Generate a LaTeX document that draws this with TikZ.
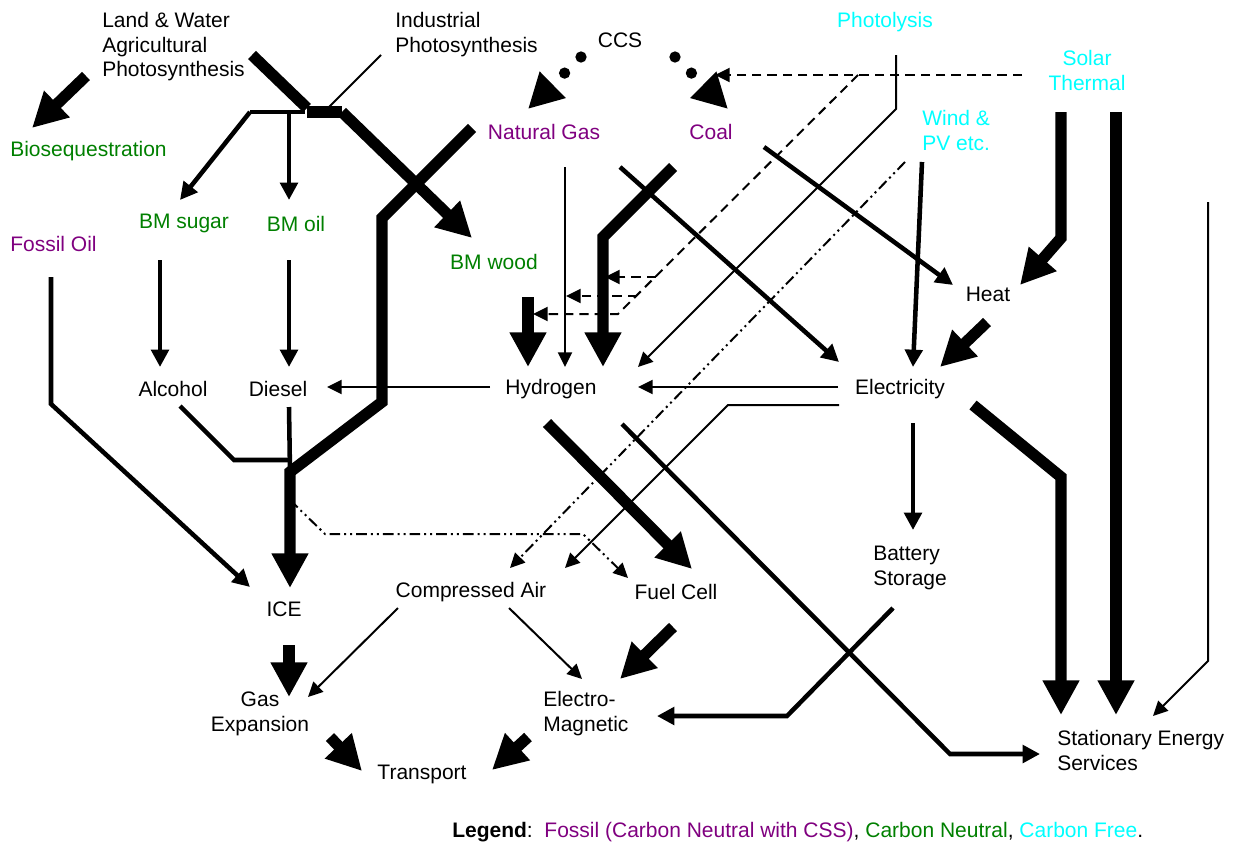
\documentclass[tikz,border=0pt]{standalone}
\usepackage{fontspec}
\setmainfont{Liberation Sans}
\usetikzlibrary{arrows.meta}

\definecolor{fossilc}{RGB}{128,0,128}
\definecolor{neutralc}{RGB}{0,128,0}
\definecolor{freec}{RGB}{0,255,255}

\begin{document}
\begin{tikzpicture}[
  x=0.75pt, y=-0.75pt,
  font=\fontsize{15.75pt}{18.5pt}\selectfont,
  box/.style={inner sep=0pt, align=center, yshift=-1.3pt},
  leftbox/.style={inner sep=0pt, align=left, anchor=west, yshift=-1.3pt},
  fossiltext/.style={text=fossilc},
  neutraltext/.style={text=neutralc},
  freetext/.style={text=freec},
  thinline/.style={line width=1.5pt},
  medline/.style={line width=3.4pt},
  heavyline/.style={line width=8.5pt},
  thinflow/.style={thinline, -{Triangle[length=11pt,width=10.5pt]}},
  medflow/.style={medline, -{Triangle[length=13pt,width=13pt]}},
  heavyflow/.style={heavyline, -{Triangle[length=26pt,width=26pt]}},
  dashedflow/.style={thinflow, dash pattern=on 7pt off 4.5pt},
  dotdashflow/.style={thinflow, dash pattern=on 8pt off 3pt on 1.5pt off 3pt on 1.5pt off 3pt},
  ccsflow/.style={line width=8.5pt, line cap=round, dash pattern=on 0pt off 17.25pt,
    -{Triangle[length=26pt,width=26pt]}}
]
\fill[white] (0,0) rectangle (1237,843);
\useasboundingbox (0,0) rectangle (1237,843);

\node[leftbox] (landwater) at (102,45) {Land \& Water\\Agricultural\\Photosynthesis};
\node[leftbox] (industrial) at (395,33) {Industrial\\Photosynthesis};
\node[box] (ccs) at (620,39) {CCS};
\node[box, freetext] (photolysis) at (885,20) {Photolysis};
\node[box, freetext] (solar) at (1087,69) {Solar\\Thermal};
\node[leftbox, freetext] (wind) at (922,129) {Wind \&\\PV etc.};
\node[leftbox, neutraltext] (bioseq) at (10,149) {Biosequestration};
\node[box, fossiltext] (natgas) at (544,130) {Natural Gas};
\node[box, fossiltext] (coal) at (711,130) {Coal};
\node[box, neutraltext] (bmsugar) at (184,222) {BM sugar};
\node[box, neutraltext] (bmoil) at (296,222) {BM oil};
\node[leftbox, fossiltext] (fossiloil) at (10,242) {Fossil Oil};
\node[box, neutraltext] (bmwood) at (494,260) {BM wood};
\node[box] (heat) at (988,293) {Heat};
\node[box] (alcohol) at (173,387) {Alcohol};
\node[box] (diesel) at (278,387) {Diesel};
\node[box] (hydrogen) at (551,387) {Hydrogen};
\node[box] (electricity) at (900,387) {Electricity};
\node[leftbox] (battery) at (873,566) {Battery\\Storage};
\node[box] (ice) at (284,608) {ICE};
\node[box] (compair) at (471,590) {Compressed Air};
\node[box] (fuelcell) at (676,590) {Fuel Cell};
\node[box] (gasexp) at (260,712) {Gas\\Expansion};
\node[leftbox] (electromag) at (543,712) {Electro-\\Magnetic};
\node[box] (transport) at (422,773) {Transport};
\node[leftbox] (stationary) at (1057,749) {Stationary Energy\\Services};
\node[leftbox] (legend) at (452,830)
  {\textbf{Legend}:\ \ {\color{fossilc}Fossil (Carbon Neutral with CSS)}, {\color{neutralc}Carbon Neutral}, {\color{freec}Carbon Free}.};

\coordinate (lw-a) at (252,55);
\coordinate (lw-b) at (307,108);
\coordinate (ip-a) at (381,55);
\coordinate (ip-b) at (328,108);
\coordinate (fork-w) at (250,112);
\coordinate (fork-m) at (289,112);
\coordinate (fork-e) at (305,112);
\coordinate (bar-w) at (307,112);
\coordinate (bar-e) at (342,112);
\coordinate (sugar-in) at (180,200);
\coordinate (oil-in) at (289,200);
\coordinate (wood-in) at (472,238);
\coordinate (bio-a) at (86,76);
\coordinate (bio-in) at (32,128);

\coordinate (wood-a) at (472,128);
\coordinate (wood-b) at (382,218);
\coordinate (wood-c) at (382,402);
\coordinate (ice-join) at (290,472);
\coordinate (ice-in) at (290,588);
\coordinate (diesel-out) at (289,407);
\coordinate (alcohol-out) at (180,406);
\coordinate (alcohol-bend) at (234,460);
\coordinate (alcohol-join) at (289,460);
\coordinate (oil-a) at (51,277);
\coordinate (oil-b) at (51,404);
\coordinate (ice-in-w) at (250,587);
\coordinate (sugar-out) at (160,260);
\coordinate (alcohol-in) at (160,367);
\coordinate (oil-out) at (289,260);
\coordinate (diesel-in) at (289,367);

\coordinate (h2-w) at (490,387);
\coordinate (diesel-e) at (327,387);
\coordinate (elec-w) at (838,387);
\coordinate (h2-e) at (638,387);
\coordinate (ng-out) at (565,167);
\coordinate (h2-n) at (565,367);
\coordinate (coal-h2-a) at (673,167);
\coordinate (coal-h2-b) at (603,237);
\coordinate (h2-ne) at (603,367);
\coordinate (wood-out) at (528,297);
\coordinate (h2-nw) at (528,367);
\coordinate (ng-elec-a) at (620,167);
\coordinate (elec-nw) at (839,362);
\coordinate (coal-heat-a) at (764,147);
\coordinate (heat-in) at (953,285);
\coordinate (pl-a) at (896,55);
\coordinate (pl-b) at (896,109);
\coordinate (h2-in-ne) at (638,367);

\coordinate (st-dash) at (1022,75);
\coordinate (coal-dash) at (715,75);
\coordinate (dash-top) at (858,75);
\coordinate (dash-b1) at (656,277);
\coordinate (dash-b2) at (637,296);
\coordinate (dash-b3) at (618,314);
\coordinate (dash-t1) at (605,277);
\coordinate (dash-t2) at (566,296);
\coordinate (dash-t3) at (533,314);

\coordinate (wind-dd) at (905,162);
\coordinate (ca-in-dd) at (510,568);
\coordinate (ice-dd) at (290,500);
\coordinate (dd-bend-w) at (325,534);
\coordinate (dd-bend-e) at (583,534);
\coordinate (fc-in-dd) at (628,578);

\coordinate (elec-sw) at (839,405);
\coordinate (ca-bend) at (728,405);
\coordinate (ca-in-ne) at (565,568);
\coordinate (elec-s) at (913,423);
\coordinate (battery-in) at (913,530);
\coordinate (heat-out) at (987,322);
\coordinate (elec-in-ne) at (940,367);
\coordinate (wind-out) at (922,162);
\coordinate (elec-n) at (913,367);
\coordinate (elec-se) at (973,405);
\coordinate (ses-bend) at (1061,477);
\coordinate (ses-in-l) at (1061,715);

\coordinate (h2-sw) at (547,423);
\coordinate (fc-in) at (692,569);
\coordinate (h2-se) at (622,424);
\coordinate (ses-bend-b) at (950,754);
\coordinate (ses-in-w) at (1040,754);
\coordinate (bat-out) at (893,608);
\coordinate (bat-bend) at (787,716);
\coordinate (em-in-e) at (657,716);

\coordinate (st-a) at (1061,112);
\coordinate (st-bend) at (1061,238);
\coordinate (heat-in-e) at (1020,285);
\coordinate (st-b) at (1116,112);
\coordinate (ses-in-m) at (1116,715);
\coordinate (rt-a) at (1208,202);
\coordinate (rt-b) at (1208,661);
\coordinate (ses-in-e) at (1153,716);

\coordinate (ice-out) at (289,645);
\coordinate (gas-in) at (289,697);
\coordinate (ca-sw) at (398,608);
\coordinate (gas-in-e) at (308,697);
\coordinate (ca-se) at (509,608);
\coordinate (em-in-w) at (582,679);
\coordinate (fc-out) at (673,627);
\coordinate (em-in-n) at (620,679);
\coordinate (gas-out) at (330,737);
\coordinate (tr-in-w) at (362,771);
\coordinate (em-out) at (528,737);
\coordinate (tr-in-e) at (492,770);

\coordinate (ccs-w) at (581,57);
\coordinate (ng-in) at (528,109);
\coordinate (ccs-e) at (675,57);
\coordinate (coal-in) at (728,109);

\draw[heavyflow] (bio-a) -- (bio-in);
\draw[heavyline] (lw-a) -- (lw-b);
\draw[thinline] (ip-a) -- (ip-b);
\draw[medline] (fork-w) -- (fork-e);
\draw[heavyline] (bar-w) -- (bar-e);
\draw[medflow] (fork-w) -- (sugar-in);
\draw[medflow] (fork-m) -- (oil-in);
\draw[heavyflow] (bar-e) -- (wood-in);

\draw[heavyflow] (wood-a) -- (wood-b) -- (wood-c) -- (ice-join) -- (ice-in);
\draw[medline] (diesel-out) -- (ice-join);
\draw[medline] (alcohol-out) -- (alcohol-bend) -- (alcohol-join);
\draw[medflow] (oil-a) -- (oil-b) -- (ice-in-w);
\draw[medflow] (sugar-out) -- (alcohol-in);
\draw[medflow] (oil-out) -- (diesel-in);

\draw[thinflow] (h2-w) -- (diesel-e);
\draw[thinflow] (elec-w) -- (h2-e);
\draw[thinflow] (ng-out) -- (h2-n);
\draw[heavyflow] (coal-h2-a) -- (coal-h2-b) -- (h2-ne);
\draw[heavyflow] (wood-out) -- (h2-nw);
\draw[medflow] (ng-elec-a) -- (elec-nw);
\draw[medflow] (coal-heat-a) -- (heat-in);
\draw[thinflow] (pl-a) -- (pl-b) -- (h2-in-ne);

\draw[dashedflow] (st-dash) -- (coal-dash);
\draw[dashedflow] (dash-top) -- (dash-b3) -- (dash-t3);
\draw[dashedflow] (dash-b1) -- (dash-t1);
\draw[dashedflow] (dash-b2) -- (dash-t2);

\draw[dotdashflow] (wind-dd) -- (ca-in-dd);
\draw[dotdashflow] (ice-dd) -- (dd-bend-w) -- (dd-bend-e) -- (fc-in-dd);

\draw[thinflow] (elec-sw) -- (ca-bend) -- (ca-in-ne);
\draw[medflow] (elec-s) -- (battery-in);
\draw[heavyflow] (heat-out) -- (elec-in-ne);
\draw[medflow] (wind-out) -- (elec-n);
\draw[heavyflow] (elec-se) -- (ses-bend) -- (ses-in-l);

\draw[heavyflow] (h2-sw) -- (fc-in);
\draw[medflow] (h2-se) -- (ses-bend-b) -- (ses-in-w);
\draw[medflow] (bat-out) -- (bat-bend) -- (em-in-e);

\draw[heavyflow] (st-a) -- (st-bend) -- (heat-in-e);
\draw[heavyflow] (st-b) -- (ses-in-m);
\draw[thinflow] (rt-a) -- (rt-b) -- (ses-in-e);

\draw[heavyflow] (ice-out) -- (gas-in);
\draw[thinflow] (ca-sw) -- (gas-in-e);
\draw[thinflow] (ca-se) -- (em-in-w);
\draw[heavyflow] (fc-out) -- (em-in-n);
\draw[heavyflow] (gas-out) -- (tr-in-w);
\draw[heavyflow] (em-out) -- (tr-in-e);

\draw[ccsflow] (ccs-w) -- (ng-in);
\draw[ccsflow] (ccs-e) -- (coal-in);
\end{tikzpicture}
\end{document}
